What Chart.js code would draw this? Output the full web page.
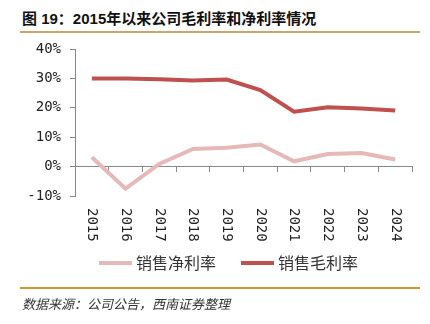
<!DOCTYPE html>
<html>
<head>
<meta charset="utf-8">
<script src="https://cdn.jsdelivr.net/npm/chart.js@4.4.0/dist/chart.umd.min.js"></script>
<style>
  body { margin: 0; background: #fff; }
  #wrap { position: relative; width: 430px; height: 324px; overflow: hidden; }
  #title {
    position: absolute; left: 22px; top: 7px;
    font: bold 15px "Liberation Sans", "Noto Sans CJK SC", sans-serif;
    color: #111; white-space: nowrap;
  }
  .rule { position: absolute; left: 20px; width: 400px; }
  #topRule { top: 31px; height: 2px; background: #C9A46B; }
  #bottomRule { top: 287px; height: 2px; background: #D4952E; }
  #source {
    position: absolute; left: 22px; top: 294px;
    font: italic 13px "Noto Sans CJK SC", sans-serif;
    color: #333; white-space: nowrap;
  }
  canvas { position: absolute; left: 0; top: 0; }
</style>
</head>
<body>
<div id="wrap">
  <div id="title">图 19：2015年以来公司毛利率和净利率情况</div>
  <div class="rule" id="topRule"></div>
  <canvas id="marginChart" width="430" height="324"></canvas>
  <div class="rule" id="bottomRule"></div>
  <div id="source">数据来源：公司公告，西南证券整理</div>
</div>
<script>
var years = ['2015', '2016', '2017', '2018', '2019', '2020', '2021', '2022', '2023', '2024'];
var netMargin = [3.2, -7.5, 0.9, 6.0, 6.4, 7.5, 1.8, 4.3, 4.6, 2.4];
var grossMargin = [30.0, 30.0, 29.7, 29.3, 29.6, 26.0, 18.7, 20.2, 19.8, 19.1];
var yTicks = [-10, 0, 10, 20, 30, 40];

var monoFont = '14px "DejaVu Sans Mono", monospace';

// x labels read top-to-bottom, and the legend sits under them
var extrasPlugin = {
  id: 'extras',
  afterDraw: function (chart) {
    var ctx = chart.ctx;
    var xScale = chart.scales.x;
    ctx.save();
    ctx.font = monoFont;
    ctx.fillStyle = '#222';
    ctx.textAlign = 'left';
    ctx.textBaseline = 'middle';
    years.forEach(function (year, i) {
      ctx.save();
      ctx.translate(xScale.getPixelForValue(i), 208);
      ctx.rotate(Math.PI / 2);
      ctx.fillText(year, 0, 0);
      ctx.restore();
    });

    ctx.font = '16px "Noto Sans CJK SC", sans-serif';
    var x = 99;
    var y = 263;
    chart.data.datasets.forEach(function (ds) {
      ctx.fillStyle = ds.borderColor;
      ctx.fillRect(x, y - 2, 33, 4);
      x += 37;
      ctx.fillStyle = '#333';
      ctx.fillText(ds.label, x, y);
      x += ctx.measureText(ds.label).width + 25;
    });
    ctx.restore();
  },
};

var marginChart = new Chart(document.getElementById('marginChart'), {
  type: 'line',
  data: {
    labels: years,
    datasets: [
      {
        label: '销售净利率',
        data: netMargin,
        borderColor: '#E6B9B8',
        backgroundColor: '#E6B9B8',
        borderWidth: 4,
        pointRadius: 0,
        tension: 0,
      },
      {
        label: '销售毛利率',
        data: grossMargin,
        borderColor: '#C0504D',
        backgroundColor: '#C0504D',
        borderWidth: 4,
        pointRadius: 0,
        tension: 0,
      },
    ],
  },
  options: {
    responsive: false,
    animation: false,
    layout: {
      padding: { top: 49, bottom: 128, left: 0, right: 18 },
    },
    plugins: {
      legend: { display: false },
      tooltip: { enabled: false },
    },
    scales: {
      x: {
        position: { y: 0 },
        offset: true,
        grid: {
          offset: true,
          drawOnChartArea: false,
          drawTicks: true,
          tickLength: 5,
          color: '#888',
        },
        border: { color: '#888', width: 1 },
        ticks: { display: false },
      },
      y: {
        min: -10,
        max: 40,
        afterFit: function (scale) {
          scale.width = 75;
        },
        afterBuildTicks: function (scale) {
          scale.ticks = yTicks.map(function (v) {
            return { value: v };
          });
        },
        grid: {
          drawOnChartArea: false,
          drawTicks: true,
          tickLength: 5,
          color: '#888',
        },
        border: { color: '#888', width: 1 },
        ticks: {
          padding: 9,
          color: '#222',
          font: { family: '"DejaVu Sans Mono", monospace', size: 14 },
          callback: function (value) {
            return value + '%';
          },
        },
      },
    },
  },
  plugins: [extrasPlugin],
});
</script>
</body>
</html>
